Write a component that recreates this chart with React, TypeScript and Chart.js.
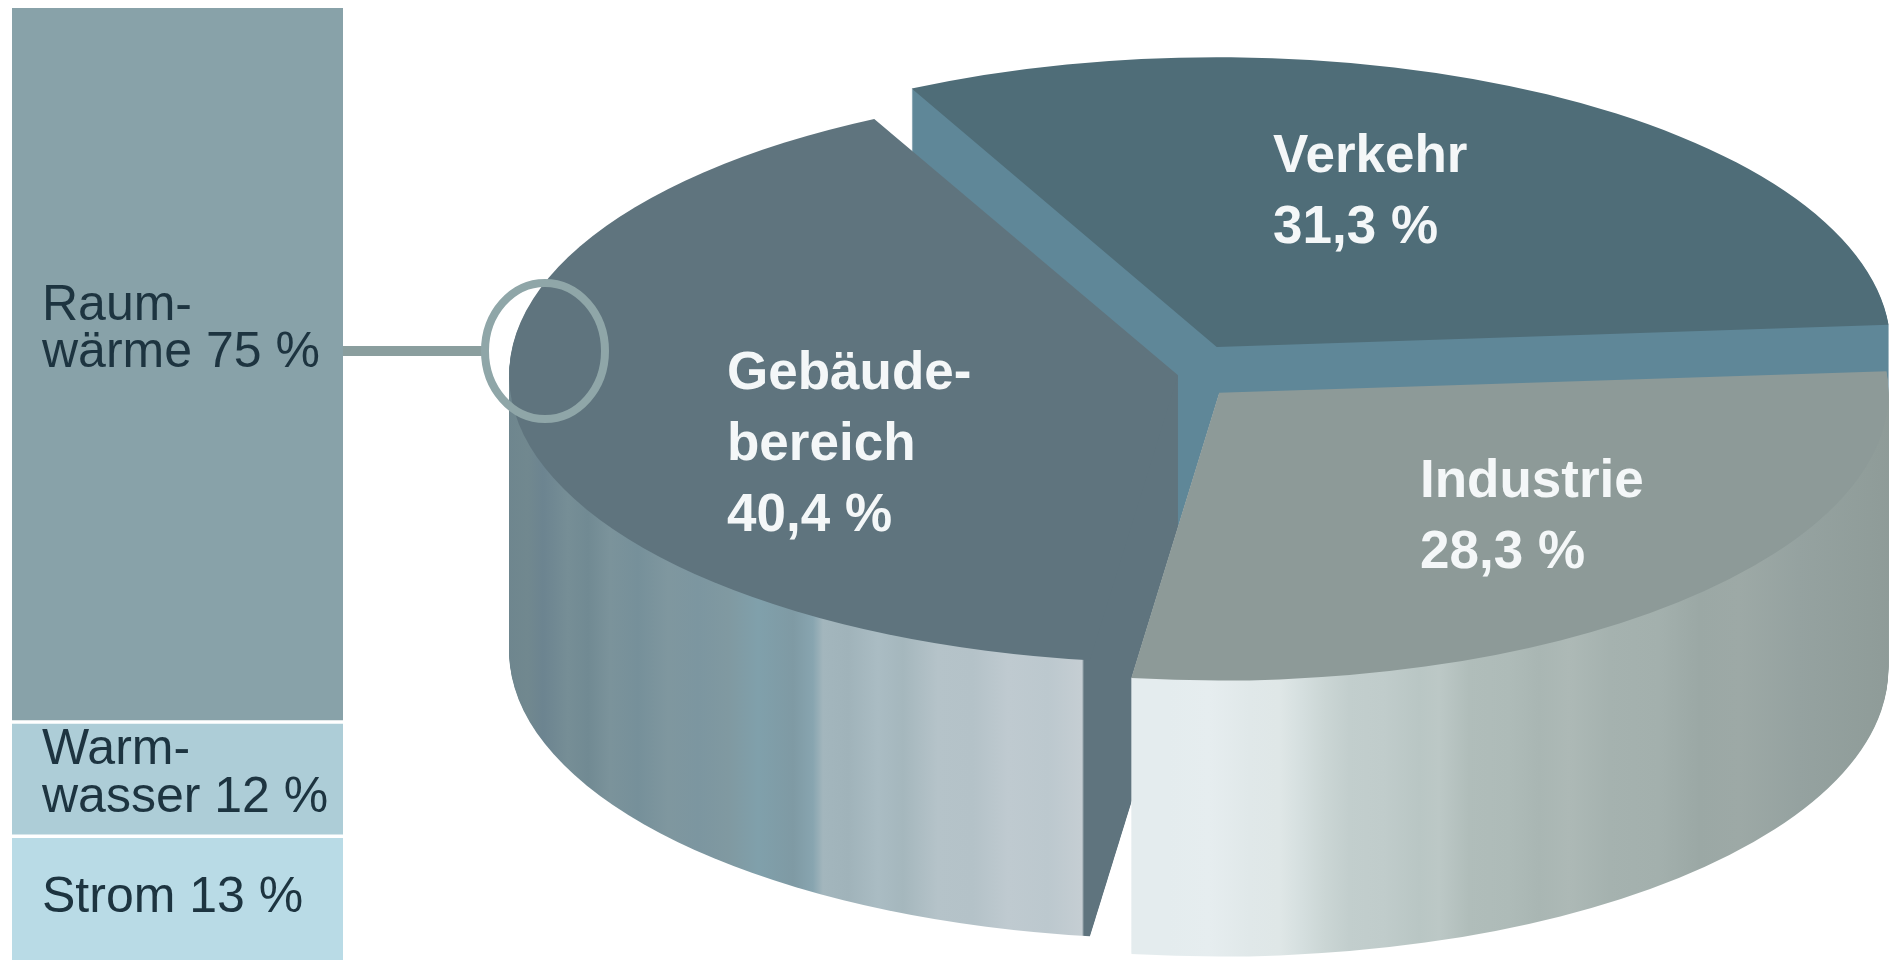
import React, { useEffect, useRef } from "react";
import { Chart, registerables } from "chart.js";

Chart.register(...registerables);

// ---- data ----
const sectors = ["Verkehr", "Industrie", "Gebäudebereich"];
const sectorShares = [31.3, 28.3, 40.4];
const sectorLabels = [["Verkehr", "31,3 %"], ["Industrie", "28,3 %"], ["Gebäude-", "bereich", "40,4 %"]];
const uses = ["Raumwärme", "Warmwasser", "Strom"];
const useShares = [75, 12, 13];
const useLabels = [["Raum-", "wärme 75 %"], ["Warm-", "wasser 12 %"], ["Strom 13 %"]];

// ---- styles ----
const W = 1901, H = 960;
const FONT = '"Liberation Sans", Arial, sans-serif';
const topColors = ["#4f6d78", "#8d9a98", "#5f747e"];
const sliceOffsets = [300, 228, 8]; // ArcElement moves by offset / 4
const SQUASH = 0.43;
const DEPTH = 276;
const paintOrder = [0, 2, 1];
const wallStops: [number, string][][] = [
  [[0, "#5f8798"], [1901, "#5f8798"]],
  [[1130, "#e4ecee"], [1170, "#e6edef"], [1210, "#e0e8e9"], [1240, "#dfe7e7"], [1262, "#d5dfdf"], [1285, "#cbd6d5"], [1310, "#c2cecd"], [1345, "#c0cccb"], [1380, "#b9c6c4"], [1400, "#bcc8c6"], [1430, "#b0bdba"], [1470, "#aebbb8"], [1500, "#a9b6b3"], [1530, "#adb9b6"], [1570, "#a5b2af"], [1620, "#a3b0ad"], [1660, "#9ba8a5"], [1700, "#9da9a6"], [1760, "#95a2a0"], [1830, "#909d9a"], [1895, "#8b9794"]],
  [[500, "#6d858e"], [530, "#71888f"], [545, "#6c8490"], [570, "#768e96"], [590, "#718a93"], [612, "#7b939b"], [640, "#76909a"], [670, "#7f979f"], [700, "#7c96a0"], [730, "#8099a1"], [760, "#80a0ab"], [795, "#7f9aa4"], [815, "#88a5b0"], [825, "#a3b6bd"], [850, "#a0b3ba"], [880, "#aabcc3"], [905, "#a5b7bd"], [940, "#b5c3c9"], [975, "#b4c2c8"], [1010, "#bfcad0"], [1050, "#bcc8ce"], [1084, "#c5ced3"], [1086, "#5f747e"], [1901, "#5f747e"]],
];
const sliceLabelPos = [[1273, 172], [1420, 497], [727, 389]];
const useLabelPos = [[320, 367], [764, 812], [912]];

function squash(ctx: CanvasRenderingContext2D, cy: number, dy: number) {
  ctx.translate(0, cy + dy);
  ctx.scale(1, SQUASH);
  ctx.translate(0, -cy);
}

const pie3d = {
  id: "pie3d",
  beforeDatasetDraw(chart: any) {
    const ctx: CanvasRenderingContext2D = chart.ctx;
    const arcs = chart.getDatasetMeta(0).data;
    for (const i of paintOrder) {
      const el = arcs[i];
      const g = ctx.createLinearGradient(0, 0, W, 0);
      for (const [x, c] of wallStops[i]) g.addColorStop(x / W, c);
      const ghost = Object.create(el);
      ghost.options = { ...el.options, backgroundColor: g };
      for (let dy = DEPTH; dy >= 1; dy--) {
        ctx.save();
        squash(ctx, el.y, dy);
        ghost.draw(ctx);
        ctx.restore();
      }
      ctx.save();
      squash(ctx, el.y, 0);
      el.draw(ctx);
      ctx.restore();
    }
    return false;
  },
  afterDraw(chart: any) {
    const ctx: CanvasRenderingContext2D = chart.ctx;
    ctx.save();
    // leader line and callout ring
    ctx.strokeStyle = "#8a9e9e";
    ctx.lineWidth = 10;
    ctx.beginPath();
    ctx.moveTo(343, 351);
    ctx.lineTo(484, 351);
    ctx.stroke();
    ctx.strokeStyle = "#8fa6a8";
    ctx.lineWidth = 8;
    ctx.beginPath();
    ctx.ellipse(545, 351, 60, 68, 0, 0, Math.PI * 2);
    ctx.stroke();
    // slice labels
    ctx.fillStyle = "#f4f7f8";
    ctx.font = `bold 53px ${FONT}`;
    ctx.textAlign = "left";
    ctx.textBaseline = "alphabetic";
    sectorLabels.forEach((lines, i) => {
      lines.forEach((t, j) => ctx.fillText(t, sliceLabelPos[i][0], sliceLabelPos[i][1] + j * 71));
    });
    ctx.restore();
  },
};

const barText = {
  id: "barText",
  afterDraw(chart: any) {
    const ctx: CanvasRenderingContext2D = chart.ctx;
    ctx.save();
    ctx.fillStyle = "#1d3440";
    ctx.font = `50px ${FONT}`;
    ctx.textAlign = "left";
    useLabels.forEach((lines, i) => {
      lines.forEach((t, j) => ctx.fillText(t, 42, useLabelPos[i][j]));
    });
    ctx.restore();
  },
};

const barColors = ["#88a2a9", "#adcdd7", "#b9dbe6"];

export default function App() {
  const pieRef = useRef<HTMLCanvasElement>(null);
  const barRef = useRef<HTMLCanvasElement>(null);

  useEffect(() => {
    const pie = new Chart(pieRef.current!, {
      type: "pie",
      data: {
        labels: sectors,
        datasets: [{
          data: sectorShares,
          backgroundColor: topColors,
          offset: sliceOffsets,
          hoverOffset: 0,
          borderWidth: 0,
          clip: false,
        } as any],
      },
      options: {
        animation: false,
        responsive: false,
        events: [],
        rotation: -27,
        radius: 668,
        layout: { padding: { left: 459, bottom: 210 } },
        plugins: { legend: { display: false }, tooltip: { enabled: false } },
      } as any,
      plugins: [pie3d],
    });

    const bar = new Chart(barRef.current!, {
      type: "bar",
      data: {
        labels: ["Gebäudebereich"],
        datasets: uses.map((u, i) => ({
          label: u,
          data: [useShares[i]],
          backgroundColor: barColors[i],
          borderColor: "#ffffff",
          borderWidth: { top: i === 0 ? 0 : 2, bottom: i === 2 ? 0 : 2, left: 0, right: 0 },
          borderSkipped: false,
          barPercentage: 1,
          categoryPercentage: 1,
        })),
      },
      options: {
        animation: false,
        responsive: false,
        events: [],
        layout: { padding: { left: 12, right: 8, top: 8, bottom: 0 } },
        scales: {
          x: { stacked: true, display: false },
          y: { stacked: true, display: false, reverse: true, min: 0, max: 100 },
        },
        plugins: { legend: { display: false }, tooltip: { enabled: false } },
      } as any,
      plugins: [barText],
    });

    return () => {
      pie.destroy();
      bar.destroy();
    };
  }, []);

  return (
    <div style={{ position: "fixed", left: 0, top: 0, width: W, height: H, background: "#fff", overflow: "hidden" }}>
      <canvas ref={pieRef} width={W} height={H} style={{ position: "absolute", left: 0, top: 0 }} />
      <canvas ref={barRef} width={351} height={H} style={{ position: "absolute", left: 0, top: 0 }} />
    </div>
  );
}
